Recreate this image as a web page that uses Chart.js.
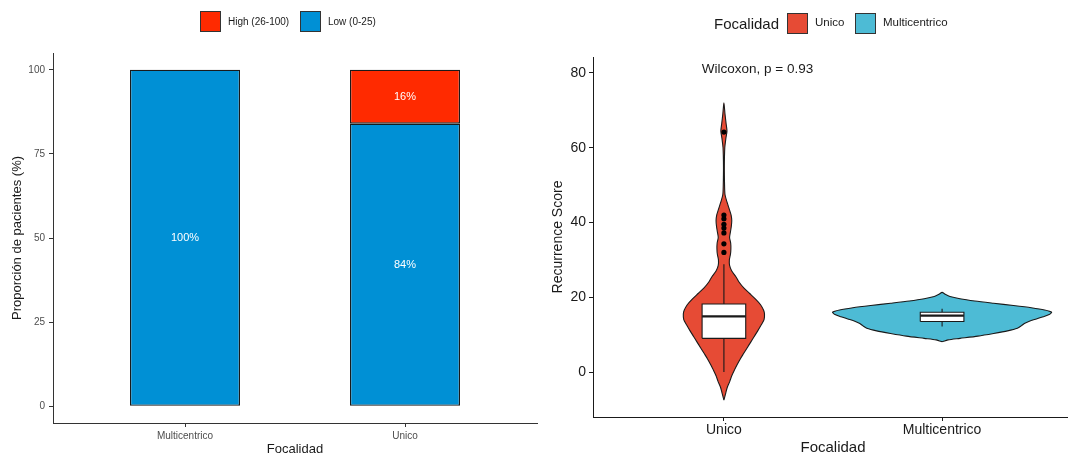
<!DOCTYPE html>
<html>
<head>
<meta charset="utf-8">
<title>Focalidad</title>
<script src="https://cdn.jsdelivr.net/npm/chart.js@4.4.1/dist/chart.umd.min.js"></script>
<style>
  html, body { margin: 0; padding: 0; background: #ffffff; overflow: hidden; width: 1068px; height: 457px; }
  body { position: relative; font-family: "Liberation Sans", Arial, Helvetica, sans-serif; }
  canvas { position: absolute; top: 0; }
  #barChart { left: 0; }
  #violinChart { left: 540px; }
  .key { position: absolute; box-sizing: border-box; border: 1px solid #333333; width: 21px; height: 21px; }
  .lab { position: absolute; white-space: nowrap; color: #1a1a1a; line-height: 1; transform: translateY(-50%); }
</style>
</head>
<body>
<canvas id="barChart" width="540" height="457"></canvas>
<canvas id="violinChart" width="537" height="457"></canvas>

<!-- legend: proportion chart -->
<div class="key" style="left:200px; top:11px; background:#FF2A00;"></div>
<div class="lab" style="left:228px; top:22px; font-size:10px;">High (26-100)</div>
<div class="key" style="left:300px; top:11px; background:#0090D5;"></div>
<div class="lab" style="left:328px; top:22px; font-size:10px;">Low (0-25)</div>

<!-- legend: recurrence score chart -->
<div class="lab" style="left:714px; top:23px; font-size:15px;">Focalidad</div>
<div class="key" style="left:787px; top:13px; background:#E64B35;"></div>
<div class="lab" style="left:815px; top:23px; font-size:11.5px;">Unico</div>
<div class="key" style="left:855px; top:13px; background:#4DBBD5;"></div>
<div class="lab" style="left:883px; top:23px; font-size:11.5px;">Multicentrico</div>

<script>
// ---- proportion of patients by risk group ----
const barCategories = ['Multicentrico', 'Unico'];
const lowPct = [100, 84];
const highPct = [0, 16];
const pctTicks = [0, 25, 50, 75, 100];

// ---- recurrence score distribution ----
const violinGroups = ['Unico', 'Multicentrico'];
const scoreTicks = [0, 20, 40, 60, 80];

// kernel density outline: score values and violin half-widths
const unicoDensityY = [-7.5, -5.5, -4, -2.5, -1, 0.5, 2, 3.5, 5, 6.5, 8, 9.5, 11, 12.5, 14, 15.5, 16.5, 18, 19.5, 21,
  22.5, 24, 25.5, 27, 28.5, 30, 31.5, 33, 34.5, 36, 37.5, 39, 40.5, 42, 43.5, 45.5, 47.5, 50, 55, 60,
  62.5, 64.5, 66.5, 69, 72];
const unicoDensityW = [0, 0.009, 0.016, 0.027, 0.036, 0.048, 0.061, 0.075, 0.091, 0.107, 0.123, 0.139, 0.155, 0.170, 0.184, 0.186, 0.182, 0.168, 0.145, 0.118,
  0.091, 0.070, 0.055, 0.036, 0.026, 0.025, 0.030, 0.032, 0.031, 0.026, 0.030, 0.034, 0.036, 0.033, 0.025, 0.014, 0.005, 0.003, 0.002, 0.004,
  0.009, 0.014, 0.010, 0.005, 0];

const multiDensityY = [8.1, 8.6, 9.0, 9.6, 10.3, 11.0, 11.7, 12.4, 13.0, 13.6, 14.2, 14.8, 15.4, 16.0, 16.6, 17.2,
  17.8, 18.4, 19.0, 19.6, 20.2, 20.8, 21.3];
const multiDensityW = [0, 0.027, 0.082, 0.164, 0.236, 0.300, 0.345, 0.364, 0.377, 0.400, 0.432, 0.464, 0.491, 0.502, 0.470, 0.409,
  0.327, 0.236, 0.150, 0.082, 0.036, 0.014, 0];

// box summaries: lower whisker, Q1, median, Q3, upper whisker
const unicoBox = [0, 9.0, 14.9, 18.2, 28.8];
const multiBox = [12.2, 13.5, 15.1, 16.0, 16.9];
const unicoOutliers = [64.2, 42.0, 41.0, 39.5, 38.5, 37.2, 34.3, 32.0];

const wilcoxonLabel = 'Wilcoxon, p = 0.93';
const wilcoxonAt = [1.154, 81.1];

Chart.defaults.font.family = '"Liberation Sans", Arial, Helvetica, sans-serif';
Chart.defaults.color = '#1a1a1a';

const INK = '#1a1a1a';
const GREY = '#4D4D4D';

// white percentage labels centred in each stacked segment
const barValueLabels = {
  id: 'barValueLabels',
  afterDatasetsDraw(chart) {
    const ctx = chart.ctx;
    ctx.save();
    ctx.fillStyle = '#ffffff';
    ctx.font = '11px "Liberation Sans", Arial, sans-serif';
    ctx.textAlign = 'center';
    ctx.textBaseline = 'middle';
    chart.data.datasets.forEach((ds, di) => {
      chart.getDatasetMeta(di).data.forEach((bar, i) => {
        const v = ds.data[i].y;
        if (!v) return;
        const p = bar.getProps(['x', 'y', 'base'], true);
        ctx.fillText(v + '%', p.x, (p.y + p.base) / 2);
      });
    });
    ctx.restore();
  }
};

function categoryAxis(labels, fontSize, color, padding, height, tickLen) {
  return {
    type: 'linear', min: 0.4, max: 2.6, offset: false, stacked: true,
    afterBuildTicks: s => { s.ticks = labels.map((_, i) => ({ value: i + 1 })); },
    afterFit: s => { s.height = height; },
    ticks: { callback: (v, i) => labels[i], font: { size: fontSize }, color: color, padding: padding, autoSkip: false, maxRotation: 0 },
    grid: { drawOnChartArea: false, drawTicks: true, offset: false, tickLength: tickLen, tickColor: '#333333' },
    border: { color: '#333333', width: 1 }
  };
}

new Chart(document.getElementById('barChart'), {
  type: 'bar',
  data: {
    datasets: [
      {
        label: 'Low (0-25)',
        data: barCategories.map((c, i) => ({ x: i + 1, y: lowPct[i] })),
        backgroundColor: '#0090D5', borderColor: INK, borderWidth: 1.3, borderSkipped: false,
        barPercentage: 0.5, categoryPercentage: 1
      },
      {
        label: 'High (26-100)',
        data: barCategories.map((c, i) => ({ x: i + 1, y: highPct[i] })),
        backgroundColor: '#FF2A00', borderColor: INK, borderWidth: 1.3, borderSkipped: false,
        barPercentage: 0.5, categoryPercentage: 1
      }
    ]
  },
  options: {
    responsive: false, animation: false, events: [],
    layout: { padding: { top: 53, right: 3, bottom: 0, left: 0 } },
    plugins: { legend: { display: false }, tooltip: { enabled: false } },
    scales: {
      x: Object.assign(categoryAxis(barCategories, 10, GREY, 3, 34, 4), {
        title: { display: true, text: 'Focalidad', font: { size: 13 }, color: INK, padding: { top: 0, bottom: 0 } }
      }),
      y: {
        type: 'linear', stacked: true, min: -5, max: 105,
        afterBuildTicks: s => { s.ticks = pctTicks.map(v => ({ value: v })); },
        afterFit: s => { s.width = 53; },
        ticks: { font: { size: 10 }, color: GREY, padding: 4 },
        grid: { drawOnChartArea: false, tickLength: 4, tickColor: '#333333' },
        border: { color: '#333333', width: 1 },
        title: { display: true, text: 'Proporción de pacientes (%)', font: { size: 13 }, color: INK, padding: { top: 10, bottom: 0 } }
      }
    }
  },
  plugins: [barValueLabels]
});

// ---- violin + box plot ----
function outline(pos, ys, ws) {
  const right = ys.map((y, i) => ({ x: pos + ws[i], y }));
  const left = ys.map((y, i) => ({ x: pos - ws[i], y })).reverse();
  return right.concat(left.slice(1));
}

const BOX_HALF = 0.1;
function boxParts(pos, b) {
  const [lo, q1, med, q3, hi] = b;
  return [
    { data: [{ x: pos, y: q3 }, { x: pos, y: hi }], borderWidth: 1.1, order: 4 },
    { data: [{ x: pos, y: lo }, { x: pos, y: q1 }], borderWidth: 1.1, order: 4 },
    {
      data: [{ x: pos - BOX_HALF, y: q1 }, { x: pos + BOX_HALF, y: q1 }, { x: pos + BOX_HALF, y: q3 },
             { x: pos - BOX_HALF, y: q3 }, { x: pos - BOX_HALF, y: q1 }],
      borderWidth: 1.1, backgroundColor: '#ffffff', fill: 'shape', order: 3
    },
    { data: [{ x: pos - BOX_HALF, y: med }, { x: pos + BOX_HALF, y: med }], borderWidth: 2.2, order: 2 }
  ].map(d => Object.assign({ showLine: true, pointRadius: 0, borderColor: INK, tension: 0, fill: d.fill || false }, d));
}

const violinSets = [
  {
    label: 'Unico', data: outline(1, unicoDensityY, unicoDensityW),
    backgroundColor: '#E64B35', borderColor: INK, borderWidth: 1.1,
    showLine: true, pointRadius: 0, fill: 'shape', tension: 0.25, order: 6
  },
  {
    label: 'Multicentrico', data: outline(2, multiDensityY, multiDensityW),
    backgroundColor: '#4DBBD5', borderColor: INK, borderWidth: 1.1,
    showLine: true, pointRadius: 0, fill: 'shape', tension: 0.25, order: 6
  }
];

const outlierSet = {
  label: 'outliers', data: unicoOutliers.map(v => ({ x: 1, y: v })),
  showLine: false, pointRadius: 2.6, pointBackgroundColor: '#000000', pointBorderWidth: 0, order: 1
};

const statLabel = {
  id: 'statLabel',
  afterDatasetsDraw(chart) {
    const { x, y } = chart.scales;
    const ctx = chart.ctx;
    ctx.save();
    ctx.fillStyle = INK;
    ctx.font = '13.5px "Liberation Sans", Arial, sans-serif';
    ctx.textAlign = 'center';
    ctx.textBaseline = 'middle';
    ctx.fillText(wilcoxonLabel, x.getPixelForValue(wilcoxonAt[0]), y.getPixelForValue(wilcoxonAt[1]));
    ctx.restore();
  }
};

const rightX = categoryAxis(violinGroups, 14, INK, 1, 40, 4);
rightX.stacked = false;
rightX.border.color = INK;
rightX.grid.tickColor = INK;
rightX.title = { display: true, text: 'Focalidad', font: { size: 15 }, color: INK, padding: { top: 0, bottom: 0 } };

new Chart(document.getElementById('violinChart'), {
  type: 'scatter',
  data: {
    datasets: violinSets
      .concat(boxParts(1, unicoBox))
      .concat(boxParts(2, multiBox))
      .concat([outlierSet])
  },
  options: {
    responsive: false, animation: false, events: [],
    layout: { padding: { top: 57, right: 0, bottom: 0, left: 0 } },
    plugins: { legend: { display: false }, tooltip: { enabled: false } },
    scales: {
      x: rightX,
      y: {
        type: 'linear', min: -12.04, max: 84.28,
        afterBuildTicks: s => { s.ticks = scoreTicks.map(v => ({ value: v })); },
        afterFit: s => { s.width = 53; },
        ticks: { font: { size: 14 }, color: INK, padding: 3 },
        grid: { drawOnChartArea: false, tickLength: 4, tickColor: INK },
        border: { color: INK, width: 1 },
        title: { display: true, text: 'Recurrence Score', font: { size: 14 }, color: INK, padding: { top: 10, bottom: 0 } }
      }
    }
  },
  plugins: [statLabel]
});
</script>
</body>
</html>
